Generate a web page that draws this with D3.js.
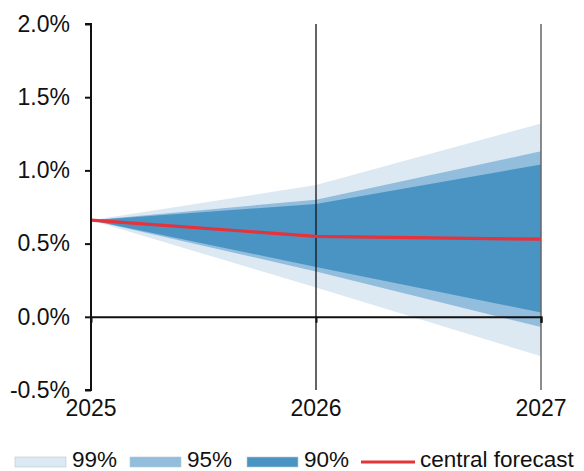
<!DOCTYPE html>
<html>
<head>
<meta charset="utf-8">
<script src="https://cdn.jsdelivr.net/npm/d3@7"></script>
<style>
  body { margin: 0; background: #fff; }
  svg text { font-family: "Liberation Sans", Arial, sans-serif; fill: #111; }
</style>
</head>
<body>
<svg id="chart" width="584" height="471"></svg>
<script>
// values (percent)
var years = [2025, 2026, 2027];
var central = [0.66, 0.55, 0.53];
var upper99 = [0.66, 0.90, 1.32];
var upper95 = [0.66, 0.80, 1.13];
var upper90 = [0.66, 0.77, 1.04];
var lower90 = [0.66, 0.34, 0.03];
var lower95 = [0.66, 0.31, -0.07];
var lower99 = [0.66, 0.20, -0.27];
var yTicks = [-0.5, 0, 0.5, 1.0, 1.5, 2.0];
var legendLabels = ['99%', '95%', '90%', 'central forecast'];

var colors = { b99: '#dce9f2', b95: '#92bddc', b90: '#4a94c4', line: '#e5323b' };

var svg = d3.select('#chart');

var x = d3.scaleLinear().domain([2025, 2027]).range([91, 541]);
var y = d3.scaleLinear().domain([-0.5, 2.0]).range([390, 24]);

// fan bands, widest first
var bands = [
    {lo: lower99, hi: upper99, color: colors.b99},
    {lo: lower95, hi: upper95, color: colors.b95},
    {lo: lower90, hi: upper90, color: colors.b90}
];

var area = d3.area()
    .x(function (d) { return x(d.year); })
    .y0(function (d) { return y(d.lo); })
    .y1(function (d) { return y(d.hi); });

bands.forEach(function (b) {
    var pts = years.map(function (yr, i) {
        return {year: yr, lo: b.lo[i], hi: b.hi[i]};
    });
    svg.append('path')
        .attr('d', area(pts))
        .attr('fill', b.color);
});

// vertical year lines
svg.append('line')
    .attr('x1', x(2026)).attr('x2', x(2026))
    .attr('y1', y(2.0)).attr('y2', y(-0.5))
    .attr('stroke', '#111').attr('stroke-width', 1.3);
svg.append('line')
    .attr('x1', x(2027)).attr('x2', x(2027))
    .attr('y1', y(2.0)).attr('y2', y(-0.5))
    .attr('stroke', '#666').attr('stroke-width', 1.5);

// zero line with small ticks down
var zeroAxis = d3.axisBottom(x)
    .tickValues([2026, 2027])
    .tickSize(6)
    .tickFormat('');
svg.append('g')
    .attr('transform', 'translate(0,' + y(0) + ')')
    .call(zeroAxis)
    .call(function (g) {
        g.select('.domain').attr('stroke', '#111').attr('stroke-width', 2);
        g.selectAll('.tick line').attr('stroke', '#111').attr('stroke-width', 2);
    });

// central forecast
var line = d3.line()
    .x(function (d, i) { return x(years[i]); })
    .y(function (d) { return y(d); });

svg.append('path')
    .attr('d', line(central))
    .attr('fill', 'none')
    .attr('stroke', colors.line)
    .attr('stroke-width', 3.2);

// y axis
var yAxis = d3.axisLeft(y)
    .tickValues(yTicks)
    .tickSize(6)
    .tickPadding(15)
    .tickFormat(function (d) { return (d < 0 ? '-' : '') + Math.abs(d).toFixed(1) + '%'; });

svg.append('g')
    .attr('transform', 'translate(' + x(2025) + ',0)')
    .call(yAxis)
    .call(function (g) {
        g.select('.domain').attr('stroke', '#111').attr('stroke-width', 2)
            .attr('d', 'M-6,' + y(2.0) + 'H0V' + y(-0.5) + 'H-6');
        g.selectAll('.tick line').attr('stroke', '#111').attr('stroke-width', 2);
        g.selectAll('.tick text')
            .attr('font-size', 23)
            .attr('fill', '#111')
            .attr('font-family', '"Liberation Sans", Arial, sans-serif');
    });

// x labels
svg.append('g')
    .selectAll('text')
    .data(years)
    .join('text')
    .attr('x', function (d) { return x(d); })
    .attr('y', 416)
    .attr('text-anchor', 'middle')
    .attr('font-size', 23)
    .text(function (d) { return d; });

// legend
var legendItems = [
    {label: legendLabels[0], color: colors.b99, x: 15, type: 'rect'},
    {label: legendLabels[1], color: colors.b95, x: 130, type: 'rect'},
    {label: legendLabels[2], color: colors.b90, x: 247, type: 'rect'},
    {label: legendLabels[3], color: colors.line, x: 361, type: 'line'}
];

var legend = svg.append('g');
legendItems.forEach(function (it) {
    if (it.type === 'rect') {
        legend.append('rect')
            .attr('x', it.x).attr('y', 457)
            .attr('width', 51).attr('height', 10)
            .attr('fill', it.color)
            .attr('stroke', '#b8c8d4').attr('stroke-width', 0.6);
    } else {
        legend.append('line')
            .attr('x1', it.x).attr('x2', it.x + 54)
            .attr('y1', 462).attr('y2', 462)
            .attr('stroke', it.color).attr('stroke-width', 3);
    }
    legend.append('text')
        .attr('x', it.x + (it.type === 'rect' ? 57 : 59))
        .attr('y', 467)
        .attr('font-size', 22.5)
        .text(it.label);
});
</script>
</body>
</html>
